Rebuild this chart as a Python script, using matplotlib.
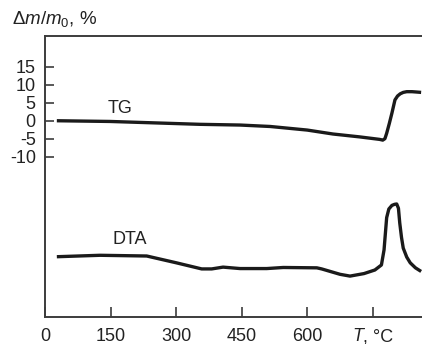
import matplotlib
matplotlib.use("Agg")
from matplotlib import pyplot

pyplot.rcParams['font.family'] = ['Liberation Sans', 'DejaVu Sans']
pyplot.rcParams['mathtext.fontset'] = 'custom'
pyplot.rcParams['mathtext.rm'] = 'Liberation Sans'
pyplot.rcParams['mathtext.it'] = 'Liberation Sans:italic'

# TG curve (mass change, %)
tg_t = [26, 148, 354, 446, 515, 600, 659, 720, 766, 773, 778, 782, 788, 794, 801, 807, 813, 820, 828, 840, 851, 861]
tg_m = [0.0, -0.2, -1.0, -1.2, -1.6, -2.6, -3.7, -4.5, -5.2, -5.4, -5.0, -3.5, -0.8, 2.1, 5.8, 6.9, 7.5, 7.9, 8.1, 8.1, 8.0, 7.9]

# DTA curve (arbitrary units, drawn below TG)
dta_t = [26, 125, 232, 300, 358, 381, 407, 446, 507, 545, 622, 633, 675, 698, 730, 755, 770, 776, 779, 782, 787, 794, 800, 805, 809, 812, 816, 820, 828, 836, 848, 861]
dta_v = [-37.9, -37.5, -37.7, -39.6, -41.3, -41.3, -40.8, -41.2, -41.2, -40.9, -41.0, -41.3, -42.8, -43.3, -42.6, -41.6, -40.2, -36.0, -31.5, -27.0, -24.6, -23.6, -23.3, -23.2, -24.4, -28.5, -32.5, -35.5, -38.0, -39.6, -41.0, -42.0]

tick_pos = [0, 150, 300, 450, 600, 750]
tick_labels = ['0', '150', '300', '450', '600', '']
ytick_pos = [15, 10, 5, 0, -5, -10]

figure = pyplot.figure(figsize=(4.22, 3.44), dpi=100)
axes = figure.add_axes([0.1078, 0.0785, 0.8922, 0.8177])

line_color = '#1a1a1a'
text_color = '#222222'
axes.plot(tg_t, tg_m, color=line_color, linewidth=2.4, solid_joinstyle='round', solid_capstyle='butt')
axes.plot(dta_t, dta_v, color=line_color, linewidth=2.4, solid_joinstyle='round', solid_capstyle='butt')

axes.set_xlim(0, 863)
axes.set_ylim(-54.7, 23.7)

axes.set_xticks(tick_pos)
axes.set_xticklabels(tick_labels)
axes.set_yticks(ytick_pos)
axes.set_yticklabels([str(v) for v in ytick_pos])

spine_color = '#3c3c3c'
for side in ['left', 'bottom', 'top']:
    axes.spines[side].set_color(spine_color)
    axes.spines[side].set_linewidth(1.4)
axes.spines['right'].set_visible(False)

axes.tick_params(direction='in', length=7, width=1.2, color=spine_color,
                 labelsize=13, labelcolor=text_color)
axes.tick_params(axis='x', pad=8)
axes.tick_params(axis='y', length=6.5, pad=7)

# axis unit in place of the last tick label: italic T, upright ", °C"
axes.annotate('T', xy=(tick_pos[-1], 0), xycoords=('data', 'axes fraction'),
              xytext=(-6.9, -8), textcoords='offset points', fontsize=13,
              style='italic', color=text_color, ha='right', va='top')
axes.annotate(', °C', xy=(tick_pos[-1], 0), xycoords=('data', 'axes fraction'),
              xytext=(-6.9, -8), textcoords='offset points', fontsize=13,
              color=text_color, ha='left', va='top')

axes.text(171, 3.4, 'TG', fontsize=13, color=text_color, ha='center', va='center')
axes.text(193, -33.1, 'DTA', fontsize=13, color=text_color, ha='center', va='center')

figure.text(11.7 / 422, 1 - 19 / 344, r'$\Delta m/m_0$, %', fontsize=13.5,
            color=text_color, ha='left', va='center')

figure.savefig("out.png", dpi=100)
